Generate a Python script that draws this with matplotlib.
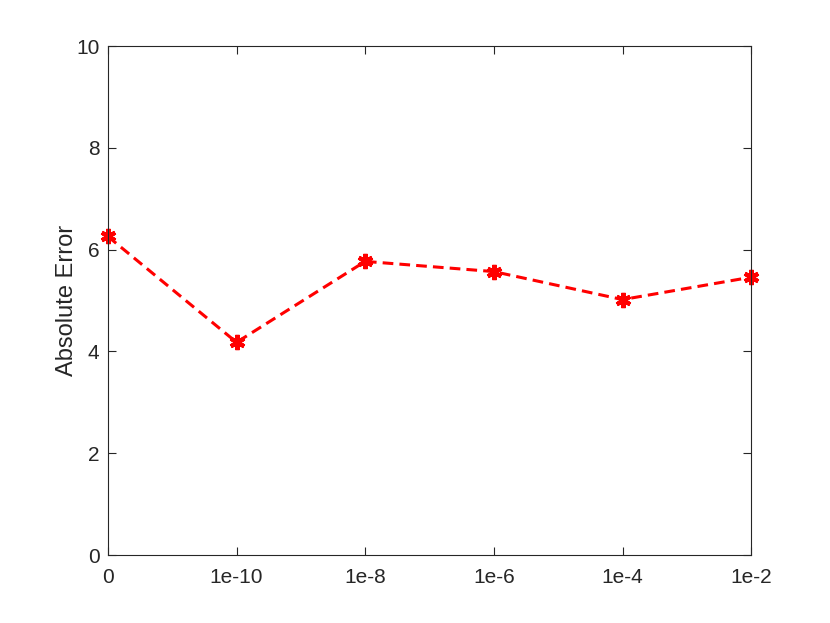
import matplotlib.pyplot as plt

plt.rcParams['font.family'] = ['Liberation Sans', 'DejaVu Sans']

noise = ['0', '1e-10', '1e-8', '1e-6', '1e-4', '1e-2']
abs_error = [6.26, 4.18, 5.77, 5.57, 5.02, 5.46]

fig = plt.figure(figsize=(8.3, 6.23), dpi=100)
ax = fig.add_axes([0.130, 0.109, 0.775, 0.817])

x = list(range(len(noise)))
ax.plot(x, abs_error, '--', color='red', linewidth=2.2, dashes=(3.5, 2),
        clip_on=False)
ax.plot(x, abs_error, linestyle='none', color='red', marker=(6, 2, 0),
        markersize=11, markeredgewidth=3, clip_on=False)

ax.set_xlim(0, len(noise) - 1)
ax.set_ylim(0, 10)
ax.set_xticks(x)
ax.set_xticklabels(noise)
ax.set_yticks([0, 2, 4, 6, 8, 10])
ax.set_ylabel('Absolute Error', fontsize=17, color='#262626', labelpad=-1)

ax.tick_params(direction='in', top=True, right=True, labelsize=15,
               colors='#262626', length=6, width=0.8)
ax.tick_params(axis='x', pad=9)
ax.tick_params(axis='y', pad=6)
for s in ax.spines.values():
    s.set_color('#262626')
    s.set_linewidth(0.8)

fig.savefig('out.png', dpi=100)
